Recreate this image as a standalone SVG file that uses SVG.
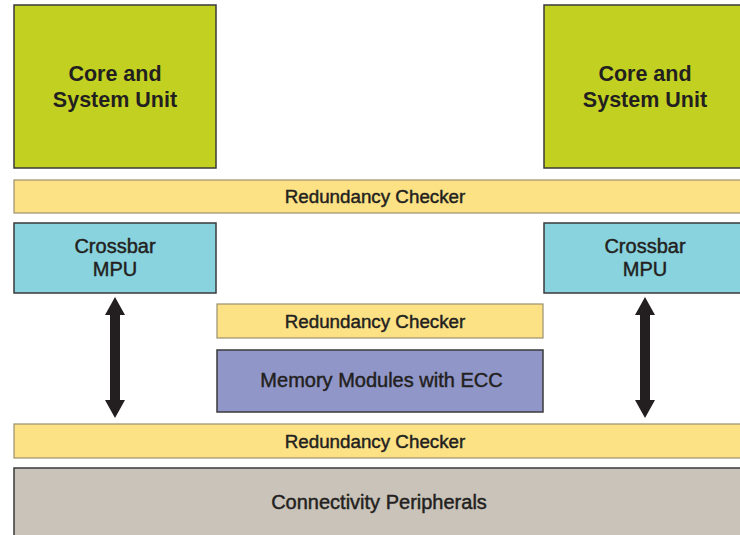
<svg xmlns="http://www.w3.org/2000/svg" width="740" height="535" viewBox="0 0 740 535">
<style>
  .box { stroke: #3a3a3a; stroke-width: 1.5; }
  .core { fill: #c2d021; }
  .xbar { fill: #89d3df; }
  .rc { fill: #fde285; stroke: #9a8f6e; stroke-width: 1.2; }
  .mem { fill: #9097c8; }
  .conn { fill: #c9c3b9; }
  text { font-family: "Liberation Sans", Arial, sans-serif; fill: #231f20; text-anchor: middle; }
  .big { font-size: 21.5px; font-weight: bold; }
  .lbl { font-size: 18.8px; stroke: #231f20; stroke-width: 0.45; }
  .lg { font-size: 20px; }
  .arrow { fill: #231f20; }
</style>
<rect width="740" height="535" fill="#ffffff"/>
<g id="core-left">
  <rect class="box core" x="14" y="5" width="202" height="163"/>
  <text class="big" x="115" y="81">Core and</text>
  <text class="big" x="115" y="107">System Unit</text>
</g>
<g id="core-right">
  <rect class="box core" x="544" y="5" width="200" height="163"/>
  <text class="big" x="645" y="81">Core and</text>
  <text class="big" x="645" y="107">System Unit</text>
</g>
<g id="rc-top">
  <rect class="rc" x="14" y="180" width="732" height="33"/>
  <text class="lbl" x="375" y="203">Redundancy Checker</text>
</g>
<g id="crossbar-left">
  <rect class="box xbar" x="14" y="223" width="202" height="70"/>
  <text class="lbl lg" x="115" y="253">Crossbar</text>
  <text class="lbl lg" x="115" y="276">MPU</text>
</g>
<g id="crossbar-right">
  <rect class="box xbar" x="544" y="223" width="200" height="70"/>
  <text class="lbl lg" x="645" y="253">Crossbar</text>
  <text class="lbl lg" x="645" y="276">MPU</text>
</g>
<g id="rc-mid">
  <rect class="rc" x="217" y="304" width="326" height="34"/>
  <text class="lbl" x="375" y="328">Redundancy Checker</text>
</g>
<g id="memory">
  <rect class="box mem" x="217" y="350" width="326" height="62"/>
  <text class="lbl lg" x="381.5" y="387">Memory Modules with ECC</text>
</g>
<g id="rc-bottom">
  <rect class="rc" x="14" y="424" width="732" height="34"/>
  <text class="lbl" x="375" y="448">Redundancy Checker</text>
</g>
<g id="connectivity">
  <rect class="box conn" x="14" y="468" width="732" height="75"/>
  <text class="lbl lg" x="379" y="509">Connectivity Peripherals</text>
</g>
<g id="connectors">
  <polygon class="arrow" points="115,297 125,315 120,315 120,400 125,400 115,418 105,400 110,400 110,315 105,315"/>
  <polygon class="arrow" points="645,297 655,315 650,315 650,400 655,400 645,418 635,400 640,400 640,315 635,315"/>
</g>
</svg>
